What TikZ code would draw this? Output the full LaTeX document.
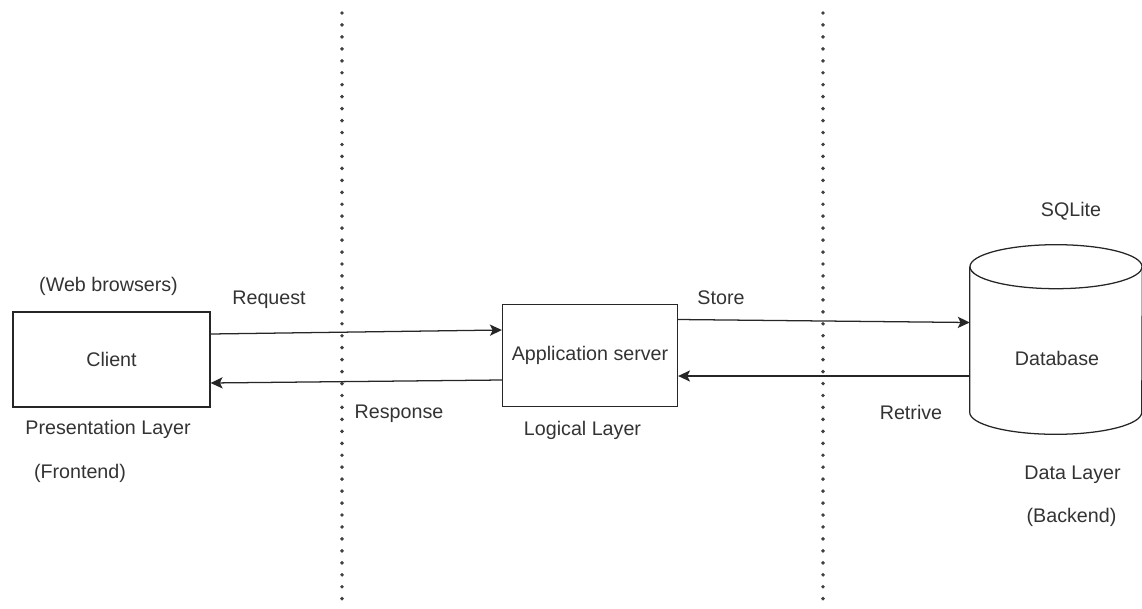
\documentclass[tikz,border=0pt]{standalone}
\usepackage{fontspec}
\setmainfont{Liberation Sans}
\usetikzlibrary{arrows.meta,calc}

\begin{document}
\begin{tikzpicture}[x=0.025cm,y=0.025cm,
    every node/.append style={text=black!80,font=\fontsize{14}{17}\selectfont},
    tier/.style={draw=black!85,line width=0.9pt,inner sep=0pt},
    flow/.style={draw=black!85,line width=0.9pt,-{Stealth[length=8.5pt,width=8pt,inset=2pt]}},
    divider/.style={line width=2.8pt,black!75,line cap=round,dash pattern=on 0pt off 8.5pt}]
    \useasboundingbox (0,0) rectangle (1142,608);
    \begin{scope}[every path/.append style={divider}]
      \draw (342,595) -- (342,3);
      \draw (823,595) -- (823,3);
    \end{scope}
    \node[tier,minimum width=4.925cm,minimum height=2.375cm] (client) at (111.5,248.5) {Client};
    \node[tier,minimum width=4.375cm,minimum height=2.55cm]  (app)    at (590,252.5)   {Application server};
    % database drum
    \node[minimum width=4.3cm,minimum height=4.725cm,inner sep=0pt] (db) at (1056,268.5) {};
    \draw[tier] ($(db.north)+(0,-22)$) ellipse [x radius=2.15cm,y radius=0.55cm];
    \draw[tier] ($(db.north west)+(0,-22)$) -- ($(db.south west)+(0,22)$)
      arc[start angle=180,end angle=360,x radius=2.15cm,y radius=0.55cm] -- ($(db.north east)+(0,-22)$);
    \node[anchor=base] (dbName) at (1057,243) {Database};
    % layer captions
    \node[anchor=base] (browsers) at (108.5,317) {(Web browsers)};
    \node[anchor=base] (presLayer) at (108,174)  {Presentation Layer};
    \node[anchor=base] (frontend) at (80,130)    {(Frontend)};
    \node[anchor=base] (logLayer) at (582.5,173) {Logical Layer};
    \node[anchor=base] (sqlite)   at (1071,392)  {SQLite};
    \node[anchor=base] (dataLayer) at (1072.5,129) {Data Layer};
    \node[anchor=base] (backend)  at (1071.5,86) {(Backend)};
    % arrow labels
    \node[anchor=base] (request)  at (269,304)   {Request};
    \node[anchor=base] (response) at (399,190)   {Response};
    \node[anchor=base] (store)    at (721,304)   {Store};
    \node[anchor=base] (retrive)  at (911,189)   {Retrive};
    % flows
    \draw[flow] ($(client.east)+(0,25.5)$) -- ($(app.west)+(0,25.5)$);
    \draw[flow] ($(app.west)+(0,-24.5)$) -- ($(client.east)+(0,-23.5)$);
    \draw[flow] ($(app.east)+(0,36)$) -- ($(db.west)+(0,17)$);
    \draw[flow] ($(db.west)+(0,-36.5)$) -- ($(app.east)+(0,-20.5)$);
\end{tikzpicture}
\end{document}
